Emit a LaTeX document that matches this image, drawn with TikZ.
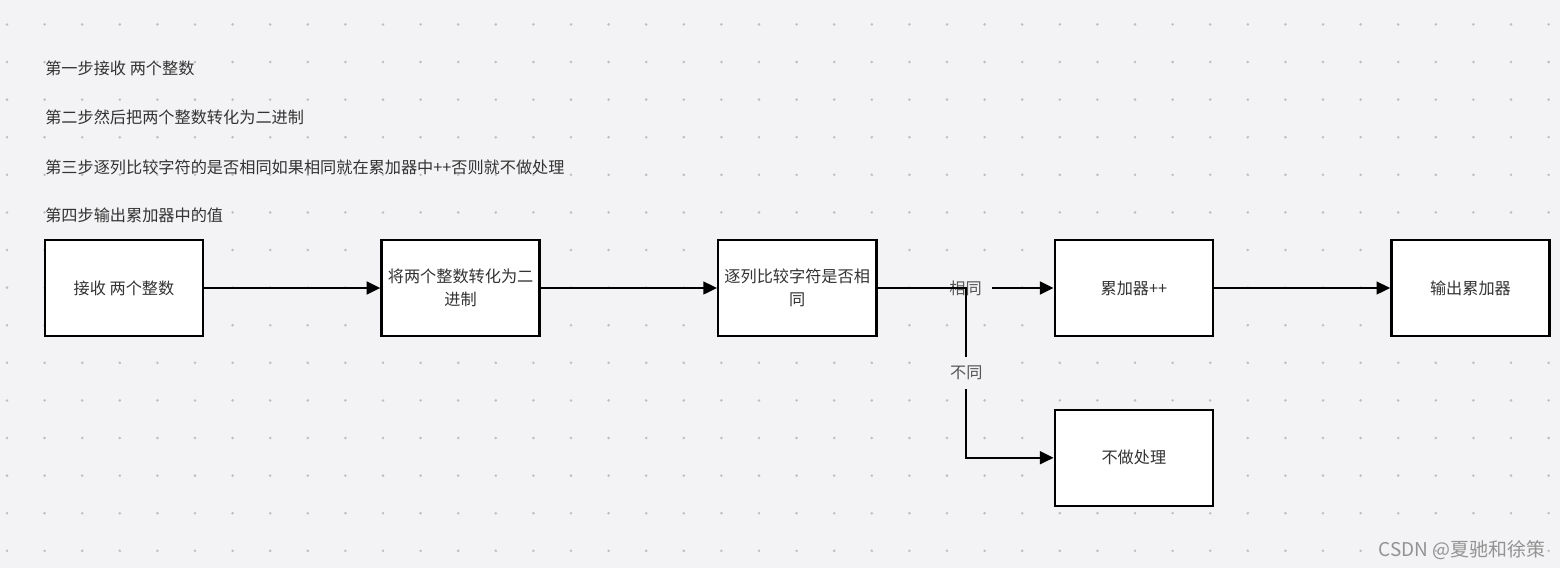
\documentclass[tikz,border=0pt]{standalone}
\usepackage{fontspec}
\newfontfamily\cjk{Noto Sans CJK SC}
\usetikzlibrary{arrows.meta, positioning}
\definecolor{canvasgray}{HTML}{F3F3F5}
\definecolor{dotgray}{HTML}{BDBDC2}
\definecolor{textgray}{HTML}{333333}
\definecolor{labelgray}{HTML}{555555}
\begin{document}
\begin{tikzpicture}[x=0.025cm, y=-0.025cm, node distance=4.40cm,
  box/.style={rectangle, draw=black, line width=1.8pt, fill=white, minimum width=3.95cm, minimum height=2.4cm, font=\cjk\fontsize{11.5}{16.5}\selectfont, text=textgray, align=center, inner sep=0pt},
  note/.style={anchor=west, font=\cjk\fontsize{11.5}{16.5}\selectfont, text=textgray, inner sep=0pt},
  branch/.style={font=\cjk\fontsize{11.5}{16.5}\selectfont, text=labelgray, fill=canvasgray, inner xsep=0.25cm, inner ysep=0.22cm},
  arrow/.style={-{Triangle[length=0.34cm, width=0.32cm]}, line width=1.4pt}]

% canvas and dot grid
\useasboundingbox (0,0) rectangle (1560,568);
\fill[canvasgray] (0,0) rectangle (1560,568);
\foreach \i in {0,...,41}
  \foreach \j in {0,...,14}
    \fill[dotgray] (7+37.6*\i, 24.4+37.6*\j) circle (0.035cm);

% steps
\node[note] (step1) at (45,68) {第一步接收 两个整数};
\node[note] (step2) at (45,117) {第二步然后把两个整数转化为二进制};
\node[note] (step3) at (45,167) {第三步逐列比较字符的是否相同如果相同就在累加器中++否则就不做处理};
\node[note] (step4) at (45,215) {第四步输出累加器中的值};

% flow
\node[box] (recv) at (124,288) {接收 两个整数};
\node[box, right=of recv] (conv) {将两个整数转化为二\\进制};
\node[box, right=of conv] (cmp) {逐列比较字符是否相\\同};
\node[box, right=of cmp] (acc) {累加器++};
\node[box, right=of acc] (out) {输出累加器};
\node[box, below=1.78cm of acc] (skip) {不做处理};
\coordinate[right=2.22cm of cmp.east] (fork);

\draw[arrow] (recv) -- (conv);
\draw[arrow] (conv) -- (cmp);
\draw[arrow] (cmp) -- node[branch] {相同} (acc);
\draw[arrow] (cmp.east) -- (fork) |- node[pos=0.25, branch] {不同} (skip.west);
\draw[arrow] (acc) -- (out);

\node[anchor=east, font=\cjk\fontsize{13.5}{16}\selectfont, text=gray!85, inner sep=0pt] (mark) at (1546,550) {CSDN @夏驰和徐策};
\end{tikzpicture}
\end{document}
